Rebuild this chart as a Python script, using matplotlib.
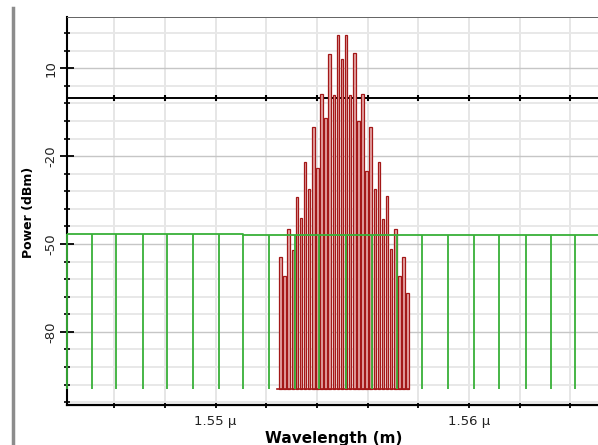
import matplotlib
matplotlib.use('Agg')
import matplotlib.pyplot as plt
from matplotlib.ticker import MultipleLocator, FixedLocator, FuncFormatter
from matplotlib.lines import Line2D

plt.rcParams['axes.unicode_minus'] = False

# FWM products (red), wavelength in nm and power in dBm
red_nm = [1552.56, 1552.72, 1552.88, 1553.05, 1553.21, 1553.37, 1553.53, 1553.69,
          1553.86, 1554.02, 1554.18, 1554.34, 1554.50, 1554.67, 1554.83, 1554.99,
          1555.15, 1555.31, 1555.48, 1555.64, 1555.80, 1555.96, 1556.12, 1556.29,
          1556.45, 1556.61, 1556.77, 1556.93, 1557.10, 1557.26, 1557.42, 1557.58]
red_dbm = [-54.4, -61.1, -45.0, -52.0, -33.9, -41.2, -21.9, -31.3,
           -10.0, -24.2, 1.1, -6.9, 14.9, 0.8, 21.4, 13.2,
           21.4, 0.8, 15.3, -7.9, 1.1, -25.0, -10.0, -31.3,
           -21.9, -41.6, -33.5, -51.8, -45.0, -61.1, -54.4, -66.9]
red_floor = -99.4

# noise comb (green)
green_nm = [1544.13, 1545.13, 1546.08, 1547.13, 1548.08, 1549.10, 1550.13,
            1551.08, 1552.10, 1553.13, 1554.08, 1555.13, 1556.16, 1557.17,
            1558.13, 1559.16, 1560.19, 1561.21, 1562.24, 1563.26, 1564.21]
green_top = [-46.6, -46.6, -46.6, -46.6, -46.6, -46.6, -46.6,
             -47.0, -47.0, -47.0, -47.0, -47.0, -47.0, -47.0,
             -47.0, -47.0, -47.0, -47.0, -47.0, -47.0, -47.0]
green_floor = -99.6

RED = '#a31818'
GREEN = '#38b038'

fig = plt.figure(figsize=(5.98, 4.45), dpi=100)
ax = fig.add_axes([67/598, 1 - 405/445, 1 - 67/598, (405 - 17)/445])
ax.set_xlim(1544.13, 1565.1)
ax.set_ylim(-105, 27.5)

ax.xaxis.set_major_locator(MultipleLocator(2))
ax.xaxis.set_major_formatter(FuncFormatter(
    lambda v, p: ('%.2f \u03bc' % (v / 1000)) if abs(v % 10) < 1e-6 else ''))
ax.yaxis.set_major_locator(FixedLocator([-80, -50, -20, 10]))
ax.yaxis.set_minor_locator(MultipleLocator(6, offset=4))

ax.grid(which='minor', axis='y', color='#e8e8e8', lw=1.4, zorder=0)
ax.grid(which='major', axis='y', color='#c6c6c6', lw=1.0, zorder=0)
ax.grid(which='major', axis='x', color='#e6e6e6', lw=1.4, zorder=0)
ax.set_axisbelow(True)

# red spectrum lines
heights = [v - red_floor for v in red_dbm]
ax.bar(red_nm, heights, bottom=red_floor, width=0.1, color='#e6a8a8',
       edgecolor=RED, lw=0.9, zorder=3)
ax.plot([red_nm[0] - 0.15, red_nm[-1] + 0.05], [red_floor, red_floor],
        color=RED, lw=1.2, zorder=3)

# green comb
ax.vlines(green_nm, green_floor, green_top, color=GREEN, lw=1.3, zorder=4, clip_on=False)
ax.plot(green_nm + [1566], green_top + [green_top[-1]], drawstyle='steps-post',
        color=GREEN, lw=1.3, zorder=4)

# zero dBm axis line with ticks
ax.axhline(0, color='black', lw=1.4, zorder=2.6)
xt = [t for t in ax.get_xticks() if 1544.13 < t < 1565.1]
ax.plot(xt, [0] * len(xt), '|', ms=5, mew=1.5, color='black', zorder=2.7)

ax.spines['left'].set_color('black')
ax.spines['left'].set_linewidth(1.5)
ax.spines['bottom'].set_linestyle((0, (1, 1)))
ax.spines['bottom'].set_linewidth(1.6)
ax.spines['top'].set_linestyle((0, (1, 1)))
ax.spines['top'].set_color('#666666')
ax.spines['top'].set_linewidth(0.72)
ax.spines['right'].set_visible(False)

ax.tick_params(axis='y', which='major', direction='inout', length=10, width=1.3,
               labelsize=9.5, pad=2, colors='black', labelcolor='#222222')
ax.tick_params(axis='y', which='minor', direction='inout', length=5, width=1.2)
ax.tick_params(axis='x', which='major', direction='inout', length=4, width=1.3,
               labelsize=9.5, pad=5, labelcolor='#222222')
plt.setp(ax.get_yticklabels(), rotation=90, va='center')

fig.text(334/598, 1 - 431/445, 'Wavelength (m)', ha='center', va='top',
         fontweight='bold', fontsize=11)
fig.text(28.5/598, 1 - 212/445, 'Power (dBm)', rotation=90, ha='center',
         va='center', fontweight='bold', fontsize=9)

# window frame edge on the left
fig.add_artist(Line2D([13/598, 13/598], [0, 1 - 8/445], color='#8c8c8c', lw=2.5))

fig.savefig('out.png', dpi=100)
